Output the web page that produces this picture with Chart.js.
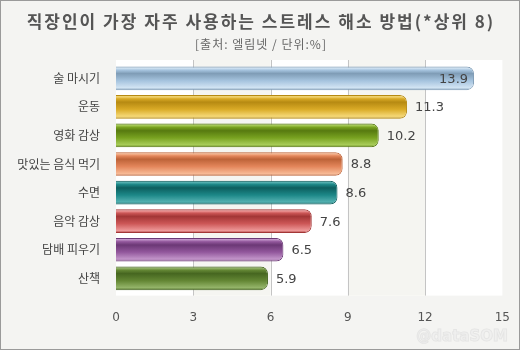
<!DOCTYPE html>
<html>
<head>
<meta charset="utf-8">
<script src="https://cdn.jsdelivr.net/npm/chart.js@4/dist/chart.umd.min.js"></script>
<style>
  html, body { margin: 0; padding: 0; background: #f4f4f2; }
  #wrap { width: 520px; height: 350px; }
</style>
</head>
<body>
<div id="wrap"><canvas id="stressChart" width="520" height="350"></canvas></div>
<script>
const titleText = "직장인이 가장 자주 사용하는 스트레스 해소 방법(*상위 8)";
const subtitleText = "[출처: 엘림넷 / 단위:%]";
const labels = ["술 마시기", "운동", "영화 감상", "맛있는 음식 먹기", "수면", "음악 감상", "담배 피우기", "산책"];
const values = [13.9, 11.3, 10.2, 8.8, 8.6, 7.6, 6.5, 5.9];
const xTicks = [0, 3, 6, 9, 12, 15];

// dark edge / body / light bottom for each bar
const barTones = [
  ["#7f9cb6", "#a5c3de", "#d2e4f3"],
  ["#b68a12", "#d9aa26", "#f5d878"],
  ["#577a10", "#78a220", "#a9cd5a"],
  ["#bd6338", "#e3855a", "#f7b893"],
  ["#0d5f5f", "#1c8787", "#54b1b1"],
  ["#a33636", "#cc5656", "#ee9999"],
  ["#6b3875", "#92579c", "#c396ca"],
  ["#466620", "#638634", "#95b56a"]
];

const BAR_PCT = 0.83;

function glossFill(context) {
  const chart = context.chart;
  const tones = barTones[context.dataIndex];
  const area = chart.chartArea;
  if (!area) return tones[1];
  const y = chart.scales.y.getPixelForValue(context.dataIndex);
  const half = (area.height / labels.length) * BAR_PCT / 2;
  const g = chart.ctx.createLinearGradient(0, y - half, 0, y + half);
  g.addColorStop(0, tones[0]);
  g.addColorStop(0.07, tones[2]);
  g.addColorStop(0.16, tones[1]);
  g.addColorStop(0.3, tones[0]);
  g.addColorStop(0.6, tones[1]);
  g.addColorStop(0.9, tones[2]);
  g.addColorStop(1, tones[0]);
  return g;
}

// page frame, titles, plot bands, grid lines and watermark
const backdrop = {
  id: "backdrop",
  beforeDraw(chart) {
    const { ctx, chartArea: a, scales: { x } } = chart;
    const top = a.top - 4, bottom = a.bottom + 3;
    ctx.save();
    ctx.fillStyle = "#f4f4f2";
    ctx.fillRect(0, 0, chart.width, chart.height);
    ctx.strokeStyle = "#9a9a9a";
    ctx.lineWidth = 1;
    ctx.strokeRect(0.5, 0.5, chart.width - 1, chart.height - 1);

    ctx.textAlign = "center";
    ctx.textBaseline = "middle";
    ctx.fillStyle = "#555555";
    ctx.font = "bold 17px 'Noto Sans CJK KR'";
    ctx.letterSpacing = "2px";
    ctx.fillText(titleText, chart.width / 2 + 1, 22);
    ctx.fillStyle = "#666666";
    ctx.font = "12px 'Noto Sans CJK KR'";
    ctx.letterSpacing = "1px";
    ctx.fillText(subtitleText, chart.width / 2 + 1, 44);
    ctx.letterSpacing = "0px";

    ctx.fillStyle = "#ffffff";
    ctx.fillRect(a.left, top, a.right - a.left, bottom - top);
    ctx.fillStyle = "#f5f5f1";
    for (let i = 1; i < xTicks.length - 1; i += 2) {
      const x0 = x.getPixelForValue(xTicks[i]);
      const x1 = x.getPixelForValue(xTicks[i + 1]);
      ctx.fillRect(x0, top, x1 - x0, bottom - top);
    }
    ctx.strokeStyle = "#c4c4c4";
    xTicks.slice(1, -1).forEach(v => {
      const px = Math.round(x.getPixelForValue(v)) + 0.5;
      ctx.beginPath();
      ctx.moveTo(px, top);
      ctx.lineTo(px, bottom);
      ctx.stroke();
    });
    ctx.restore();
  },
  afterDraw(chart) {
    const ctx = chart.ctx;
    ctx.save();
    ctx.font = "bold 15px 'DejaVu Sans'";
    ctx.textAlign = "right";
    ctx.textBaseline = "middle";
    ctx.lineWidth = 1;
    ctx.strokeStyle = "rgba(215,215,215,0.55)";
    ctx.strokeText("@dataSOM", 508, 337);
    ctx.fillStyle = "rgba(235,235,235,0.5)";
    ctx.fillText("@dataSOM", 508, 337);
    ctx.restore();
  }
};

// value text at the end of each bar, inside when it would not fit
const valueLabels = {
  id: "valueLabels",
  afterDatasetsDraw(chart) {
    const { ctx, chartArea: a } = chart;
    const meta = chart.getDatasetMeta(0);
    ctx.save();
    ctx.font = "13px 'DejaVu Sans'";
    ctx.fillStyle = "#444444";
    ctx.textBaseline = "middle";
    meta.data.forEach((bar, i) => {
      const txt = values[i].toFixed(1);
      const w = ctx.measureText(txt).width;
      if (bar.x + 8 + w > a.right - 10) {
        ctx.textAlign = "right";
        ctx.fillText(txt, bar.x - 6, bar.y + 1);
      } else {
        ctx.textAlign = "left";
        ctx.fillText(txt, bar.x + 8, bar.y + 1);
      }
    });
    ctx.restore();
  }
};

new Chart(document.getElementById("stressChart"), {
  type: "bar",
  data: {
    labels: labels,
    datasets: [{
      data: values,
      backgroundColor: glossFill,
      borderColor: barTones.map(t => t[0]),
      borderWidth: 1,
      borderSkipped: "start",
      borderRadius: 7,
      barPercentage: BAR_PCT,
      categoryPercentage: 1
    }]
  },
  options: {
    indexAxis: "y",
    responsive: false,
    animation: false,
    layout: { padding: { left: 0, right: 15, top: 64, bottom: 15 } },
    scales: {
      x: {
        min: 0,
        max: 15,
        afterBuildTicks: scale => { scale.ticks = xTicks.map(v => ({ value: v })); },
        grid: { display: false },
        border: { display: false },
        ticks: {
          padding: 10,
          color: "#555555",
          font: { family: "'DejaVu Sans'", size: 12 }
        }
      },
      y: {
        afterFit: scale => { scale.width = 116; },
        grid: { display: false },
        border: { display: false },
        ticks: {
          padding: 8,
          color: "#444444",
          font: { family: "'Noto Sans CJK KR'", size: 12 }
        }
      }
    },
    plugins: {
      legend: { display: false },
      tooltip: { enabled: false }
    }
  },
  plugins: [backdrop, valueLabels]
});
</script>
</body>
</html>
